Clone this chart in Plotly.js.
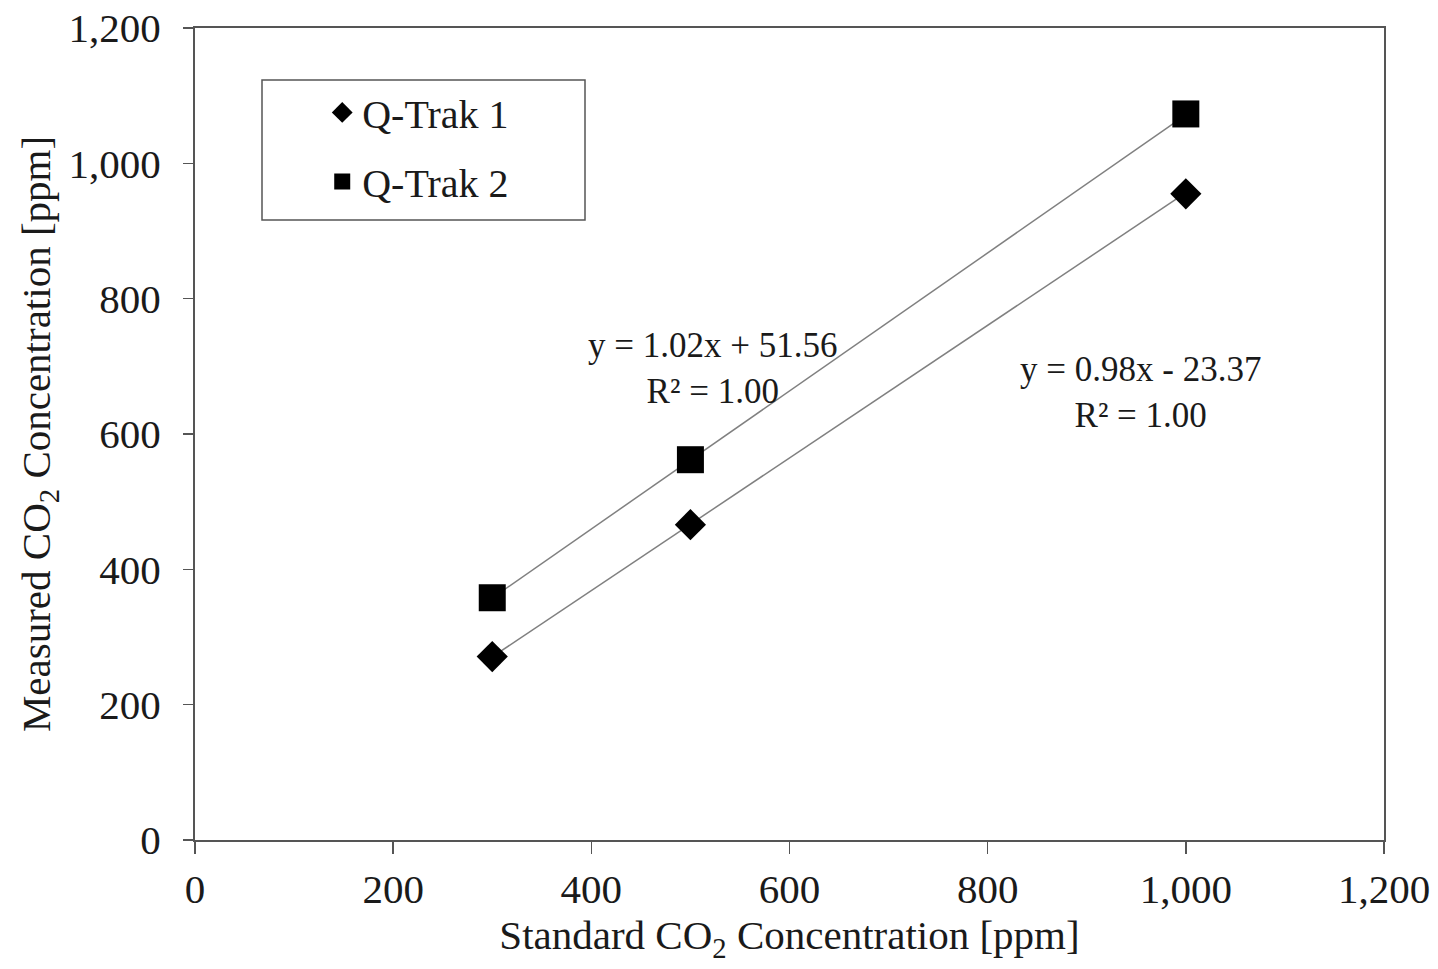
<!DOCTYPE html>
<html>
<head>
<meta charset="utf-8">
<script src="https://cdn.plot.ly/plotly-3.0.1.min.js"></script>
<style>html,body{margin:0;padding:0;background:#fff;}#chart{width:1438px;height:969px;}</style>
</head>
<body>
<div id="chart"></div>
<script>
const standardPpm = [300, 500, 1000];
const qtrak1 = [271, 466, 955];
const qtrak2 = [358, 562, 1073];
const trendX = [300, 1000];
const trend1 = [270.6, 956.6];
const trend2 = [357.6, 1071.6];
const seriesNames = ['Q-Trak 1', 'Q-Trak 2'];
const eq1Text = 'y = 0.98x - 23.37<br>R² = 1.00';
const eq2Text = 'y = 1.02x + 51.56<br>R² = 1.00';
const tickVals = [0, 200, 400, 600, 800, 1000, 1200];

const FONT = 'Liberation Serif, Times New Roman, serif';

const traces = [
  {x: trendX, y: trend2, mode: 'lines', line: {color: '#808080', width: 1.5}, showlegend: false, hoverinfo: 'skip'},
  {x: trendX, y: trend1, mode: 'lines', line: {color: '#808080', width: 1.5}, showlegend: false, hoverinfo: 'skip'},
  {x: standardPpm, y: qtrak1, name: seriesNames[0], legendgroup: 'a', mode: 'markers',
   marker: {symbol: 'diamond', size: 24, color: '#000'}},
  {x: standardPpm, y: qtrak2, name: seriesNames[1], legendgroup: 'b', mode: 'markers',
   marker: {symbol: 'square', size: 27, color: '#000'}}
];

const axisCommon = {
  range: [0, 1200], tickvals: tickVals, tickformat: ',d',
  showgrid: false, zeroline: false, showline: true, mirror: true,
  linecolor: '#555', linewidth: 2, ticks: 'outside', tickcolor: '#555', tickwidth: 1.5,
  tickfont: {family: FONT, size: 41, color: '#1a1a1a'}
};

const layout = {
  width: 1438, height: 969,
  margin: {l: 195, r: 54, t: 28, b: 129},
  paper_bgcolor: '#fff', plot_bgcolor: '#fff',
  font: {family: FONT, color: '#1a1a1a'},
  separators: '.,',
  xaxis: Object.assign({}, axisCommon, {ticklen: 12, ticklabelstandoff: 0,
    title: {text: 'Standard CO<sub>2</sub> Concentration [ppm]', font: {family: FONT, size: 41, color: '#1a1a1a'}, standoff: 8}}),
  yaxis: Object.assign({}, axisCommon, {ticklen: 10, ticklabelstandoff: 14,
    title: {text: 'Measured CO<sub>2</sub> Concentration [ppm]', font: {family: FONT, size: 41, color: '#1a1a1a'}, standoff: 5}}),
  showlegend: true,
  legend: {x: 0.107, y: 0.936, xanchor: 'left', yanchor: 'top', bgcolor: 'rgba(0,0,0,0)',
    borderwidth: 0, font: {family: FONT, size: 40, color: '#1a1a1a'}, tracegroupgap: 14, itemwidth: 30},
  shapes: [{type: 'rect', xref: 'paper', yref: 'paper', x0: (262-195)/1189, x1: (585-195)/1189,
    y0: (840-220)/812, y1: (840-80)/812, line: {color: '#555', width: 1.5}, fillcolor: '#fff', layer: 'below'}],
  annotations: [
    {x: 522, y: 697, xref: 'x', yref: 'y', text: eq2Text, showarrow: false, align: 'center',
     font: {family: FONT, size: 35, color: '#1a1a1a'}},
    {x: 954, y: 661, xref: 'x', yref: 'y', text: eq1Text, showarrow: false, align: 'center',
     font: {family: FONT, size: 35, color: '#1a1a1a'}}
  ]
};

Plotly.newPlot('chart', traces, layout, {displayModeBar: false, staticPlot: true});
</script>
</body>
</html>
